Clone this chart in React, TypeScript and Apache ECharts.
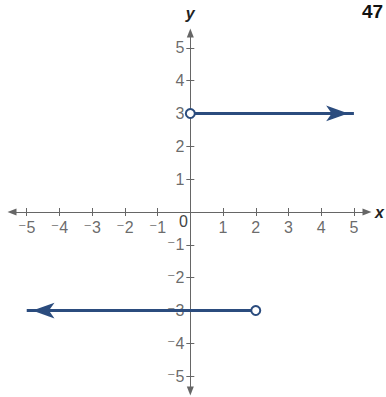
import React, { useEffect, useRef } from "react";
import * as echarts from "echarts";

const tickValues = [-5, -4, -3, -2, -1, 1, 2, 3, 4, 5];
const seg1X = [0, 5];
const seg1Y = [3, 3];
const seg2X = [-5, 2];
const seg2Y = [-3, -3];
const pageLabel = "47";

const FONT = "'Liberation Sans', 'DejaVu Sans', Arial, sans-serif";
const LINE = "#2b4c7e";
const AXIS = "#666666";
const TEXT = "#444444";

const fmt = (v: number) => (v < 0 ? "\u207B" + Math.abs(v) : String(v));

export default function App() {
  const ref = useRef<HTMLDivElement>(null);
  useEffect(() => {
    if (!ref.current) return;
    const chart = echarts.init(ref.current, undefined, { renderer: "svg" });
    const baseAxis = {
      type: "value",
      min: -5.45,
      max: 5.45,
      splitLine: { show: false },
      axisLabel: { show: false },
    };
    const labelStyle = { fontFamily: FONT, fontSize: 16, color: TEXT };
    const option: any = {
      animation: false,
      backgroundColor: "#fff",
      grid: { left: 12, right: 19, top: 33, bottom: 6, containLabel: false, outerBoundsMode: "none" },
      xAxis: [
        {
          ...baseAxis,
          max: 5.4,
          position: "bottom",
          name: "x",
          nameLocation: "end",
          nameGap: 8,
          nameTextStyle: { fontFamily: FONT, fontSize: 16, fontWeight: "bold", fontStyle: "italic", color: "#222" },
          axisLine: { show: true, onZero: true, onZeroAxisIndex: 0, symbol: ["triangle", "triangle"], symbolSize: [7, 9], lineStyle: { color: AXIS, width: 1 } },
          axisTick: { show: true, length: 4, customValues: tickValues, lineStyle: { color: AXIS } },
        },
        {
          ...baseAxis,
          max: 5.4,
          position: "top",
          axisLine: { show: false, onZero: true, onZeroAxisIndex: 1 },
          axisTick: { show: true, length: 4, customValues: tickValues, lineStyle: { color: AXIS } },
        },
      ],
      yAxis: [
        {
          ...baseAxis,
          position: "left",
          name: "y",
          nameLocation: "end",
          nameGap: 12,
          nameTextStyle: { fontFamily: FONT, fontSize: 16, fontWeight: "bold", fontStyle: "italic", color: "#222" },
          axisLine: { show: true, onZero: true, onZeroAxisIndex: 0, symbol: ["triangle", "triangle"], symbolSize: [7, 9], lineStyle: { color: AXIS, width: 1 } },
          axisTick: { show: true, length: 4, customValues: tickValues, lineStyle: { color: AXIS } },
        },
        {
          ...baseAxis,
          position: "right",
          axisLine: { show: false, onZero: true, onZeroAxisIndex: 1 },
          axisTick: { show: true, length: 4, customValues: tickValues, lineStyle: { color: AXIS } },
        },
      ],
      graphic: [
        { type: "text", left: 362, top: 2, style: { text: pageLabel, fontFamily: FONT, fontSize: 19, fontWeight: "bold", fill: "#111" } },
        { type: "text", left: 179, top: 213, style: { text: "0", fontFamily: FONT, fontSize: 16, fill: TEXT } },
      ],
      series: [
        {
          type: "scatter",
          xAxisIndex: 0,
          yAxisIndex: 0,
          symbolSize: 0,
          silent: true,
          z: 1,
          data: tickValues.map((v) => [v, 0]),
          label: { show: true, position: "bottom", distance: 7, formatter: (p: any) => fmt(p.value[0]), ...labelStyle },
        },
        {
          type: "scatter",
          xAxisIndex: 0,
          yAxisIndex: 0,
          symbolSize: 0,
          silent: true,
          z: 1,
          data: tickValues.map((v) => [0, v]),
          label: { show: true, position: "left", distance: 6, formatter: (p: any) => fmt(p.value[1]), ...labelStyle },
        },
        {
          type: "line",
          xAxisIndex: 0,
          yAxisIndex: 0,
          lineStyle: { color: LINE, width: 3 },
          itemStyle: { color: LINE, borderColor: LINE, borderWidth: 2 },
          z: 5,
          data: [
            { value: [seg1X[0], seg1Y[0]], symbol: "emptyCircle", symbolSize: 9 },
            { value: [seg1X[1], seg1Y[1]], symbol: "arrow", symbolSize: [9, 17], symbolRotate: -90, symbolOffset: [-8, 0] },
          ],
        },
        {
          type: "line",
          xAxisIndex: 0,
          yAxisIndex: 0,
          lineStyle: { color: LINE, width: 3 },
          itemStyle: { color: LINE, borderColor: LINE, borderWidth: 2 },
          z: 5,
          data: [
            { value: [seg2X[0], seg2Y[0]], symbol: "arrow", symbolSize: [9, 17], symbolRotate: 90, symbolOffset: [8, 0] },
            { value: [seg2X[1], seg2Y[1]], symbol: "emptyCircle", symbolSize: 9 },
          ],
        },
      ],
    };
    chart.setOption(option);
    return () => chart.dispose();
  }, []);
  return <div ref={ref} style={{ width: 386, height: 397, position: "fixed", left: 0, top: 0 }} />;
}
